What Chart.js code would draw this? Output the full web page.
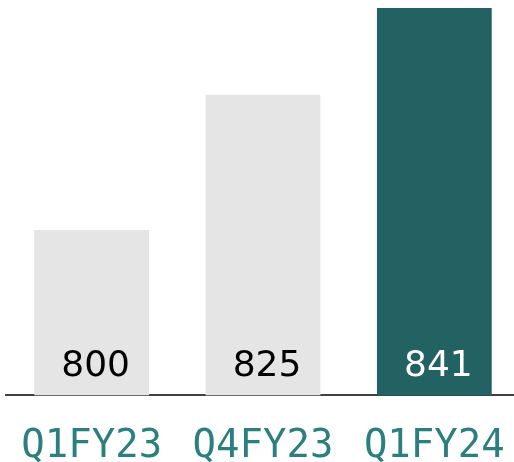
<!DOCTYPE html>
<html>
<head>
<meta charset="utf-8">
<script src="https://cdn.jsdelivr.net/npm/chart.js@4/dist/chart.umd.min.js"></script>
<style>
    html, body { margin: 0; padding: 0; background: #fff; overflow: hidden; }
</style>
</head>
<body>
<canvas id="grafico" width="520" height="462"></canvas>
<script>
const categorias = ["Q1FY23", "Q4FY23", "Q1FY24"];
const valores = [800, 825, 841];
const coloresBarra = ["#e5e5e5", "#e5e5e5", "#236262"];
const coloresTexto = ["#000000", "#000000", "#ffffff"];

// etiquetas de valor dentro de la barra, abajo
const etiquetasValor = {
    id: "etiquetasValor",
    afterDatasetsDraw(chart) {
        const ctx = chart.ctx;
        const meta = chart.getDatasetMeta(0);
        const fondo = chart.scales.y.bottom;
        ctx.save();
        ctx.font = "36px 'DejaVu Sans'";
        ctx.textAlign = "center";
        ctx.textBaseline = "alphabetic";
        meta.data.forEach((barra, i) => {
            ctx.fillStyle = coloresTexto[i];
            ctx.fillText(String(valores[i]), barra.x + 4, fondo - 19);
        });
        ctx.restore();
    }
};

new Chart(document.getElementById("grafico"), {
    type: "bar",
    data: {
        labels: categorias,
        datasets: [{
            data: valores,
            backgroundColor: coloresBarra,
            borderWidth: 0,
            barPercentage: 0.67,
            categoryPercentage: 1
        }]
    },
    options: {
        responsive: false,
        animation: false,
        layout: { padding: { top: 8, left: 6, right: 0, bottom: -11 } },
        plugins: {
            legend: { display: false },
            tooltip: { enabled: false }
        },
        scales: {
            y: {
                display: false,
                min: 769.5,
                max: 841
            },
            x: {
                // marcas invisibles para separar las etiquetas del eje
                grid: { display: true, drawOnChartArea: false, tickLength: 25, tickColor: "rgba(0,0,0,0)" },
                border: { display: true, color: "#404040", width: 2 },
                ticks: {
                    color: "#2b7f7f",
                    font: { family: "'DejaVu Sans Mono'", size: 39 },
                    padding: 3,
                    maxRotation: 0
                }
            }
        }
    },
    plugins: [etiquetasValor]
});
</script>
</body>
</html>
